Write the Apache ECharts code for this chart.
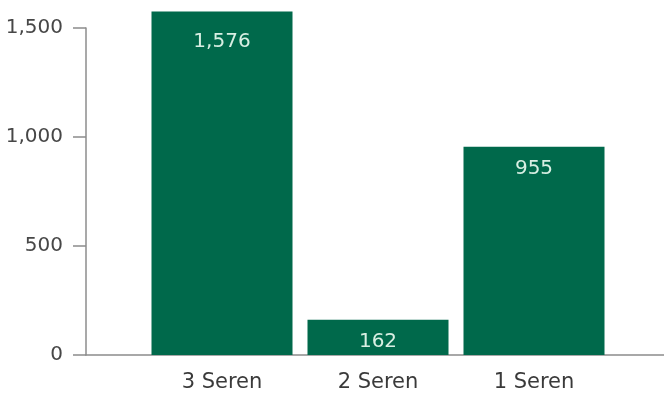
<!DOCTYPE html>
<html><head><meta charset="utf-8">
<script src="https://cdn.jsdelivr.net/npm/echarts@6/dist/echarts.min.js"></script>
<style>html,body{margin:0;padding:0;background:#fff}#c{width:664px;height:396px}</style>
</head><body><div id="c"></div>
<script>
const categories = ['3 Seren', '2 Seren', '1 Seren'];
const values = [1576, 162, 955];
const yTicks = [0, 500, 1000, 1500];

const FONT = 'DejaVu Sans';
const chart = echarts.init(document.getElementById('c'), null, {renderer: 'canvas'});
const fmt = v => v.toLocaleString('en-US');
chart.setOption({
  animation: false,
  backgroundColor: '#ffffff',
  grid: [
    {left: 86, right: 0, top: 28, bottom: 41},
    {left: 144, right: 52, top: 28, bottom: 41}
  ],
  xAxis: [
    {type: 'value', gridIndex: 0, min: 0, max: 1,
     axisLine: {show: true, onZero: false, lineStyle: {color: '#8c8c8c', width: 1.5}},
     axisTick: {show: false}, axisLabel: {show: false}, splitLine: {show: false}},
    {type: 'category', gridIndex: 1, data: categories,
     axisLine: {show: false}, axisTick: {show: false}, splitLine: {show: false},
     axisLabel: {color: '#3a3a3a', fontSize: 21, fontFamily: FONT, margin: 17}}
  ],
  yAxis: [
    {type: 'value', gridIndex: 0, min: yTicks[0], max: yTicks[yTicks.length - 1], interval: yTicks[1] - yTicks[0],
     axisLine: {show: true, lineStyle: {color: '#8c8c8c', width: 1.5}},
     axisTick: {show: true, length: 13, lineStyle: {color: '#8c8c8c', width: 1.5}},
     splitLine: {show: false},
     axisLabel: {color: '#474747', fontSize: 20, fontFamily: FONT, margin: 23, formatter: fmt}},
    {type: 'value', gridIndex: 1, min: yTicks[0], max: yTicks[yTicks.length - 1], show: false}
  ],
  series: [{
    type: 'bar', xAxisIndex: 1, yAxisIndex: 1, barWidth: 141, clip: false,
    itemStyle: {color: '#00694b'},
    label: {show: true, position: 'insideTop', distance: 12, color: '#d8efe3', fontSize: 20, fontFamily: FONT, formatter: p => fmt(p.value)},
    data: values.map((v, i) => i === 0 ? {value: v, label: {distance: 20}} : v)
  }]
});
</script></body></html>
